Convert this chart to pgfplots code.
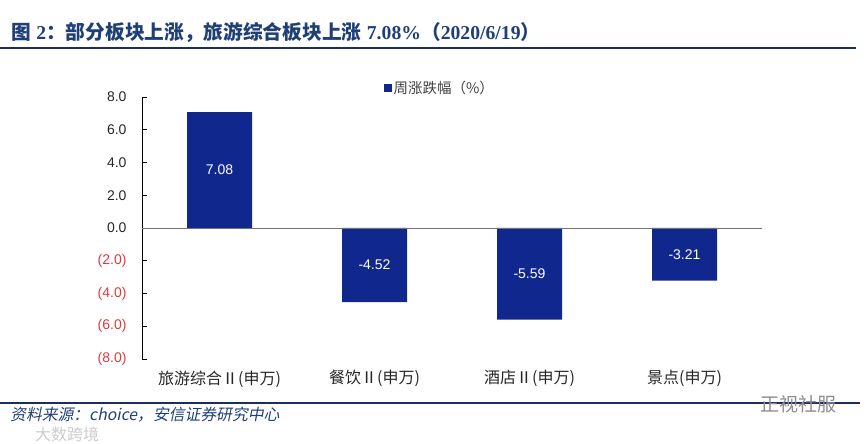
\documentclass[border=0pt]{standalone}
\usepackage{fontspec}
\setmainfont{Liberation Sans}
\newfontfamily\cjk{Noto Sans CJK SC}
\newfontfamily\cjkit[FakeSlant=0.2]{Noto Sans CJK SC}
\newfontfamily\tnr{Liberation Serif}
\usepackage{pgfplots}
\pgfplotsset{compat=1.18}
\definecolor{titleblue}{HTML}{1F3F77}
\definecolor{barblue}{HTML}{10288E}
\definecolor{navy}{HTML}{1B2F5E}
\definecolor{negred}{HTML}{E0393E}
\begin{document}
\begin{tikzpicture}[x=1pt,y=1pt]
\useasboundingbox (0,0) rectangle (867,444);
\node[anchor=west, text=titleblue, inner sep=0pt] at (11,412)
  {\fontsize{19.7}{22}\selectfont\bfseries{\cjk 图} {\tnr 2}{\cjk ：部分板块上涨，旅游综合板块上涨} {\tnr 7.08\%}{\cjk （}{\tnr 2020/6/19}{\cjk ）}};
\draw[navy, line width=1.3pt] (0,396) -- (856,396);
\begin{axis}[
  at={(142pt,85pt)}, anchor=south west,
  width=620pt, height=262pt, scale only axis,
  xmin=-0.5, xmax=3.5, ymin=-8, ymax=8,
  axis x line*=bottom, axis y line*=left,
  x axis line style={draw=none},
  y axis line style={black, line width=0.8pt},
  xtick={0,1,2,3},
  xticklabels={旅游综合Ⅱ(申万),餐饮Ⅱ(申万),酒店Ⅱ(申万),景点(申万)},
  xtick style={draw=none},
  xticklabel style={font=\cjk\fontsize{16}{18}\selectfont, text=black!85, yshift=-8pt},
  ytick={-8,-6,-4,-2,0,2,4,6,8},
  yticklabels={\textcolor{negred}{(8.0)},\textcolor{negred}{(6.0)},\textcolor{negred}{(4.0)},\textcolor{negred}{(2.0)},0.0,2.0,4.0,6.0,8.0},
  yticklabel style={font=\fontsize{14}{16}\selectfont, text=black!85, xshift=-12pt},
  tick align=inside, major tick length=5pt,
  ytick style={black, line width=0.8pt},
  legend style={at={(0.39,1.035)}, anchor=west, draw=none, fill=none, inner sep=0pt,
    font=\cjk\fontsize{14.5}{16}\selectfont, text=black!75},
  legend image code/.code={\fill[barblue] (0pt,-3.8pt) rectangle (7.5pt,3.8pt);},
  clip=false,
]
\addplot[ybar, fill=barblue, draw=none, bar width=65pt] coordinates {(0,7.08) (1,-4.52) (2,-5.59) (3,-3.21)};
\addlegendentry{周涨跌幅（\%）}
\draw[black!55, line width=0.9pt] (axis cs:-0.5,0) -- (axis cs:3.5,0);
\node[text=white, font=\fontsize{14}{16}\selectfont] at (axis cs:0,3.54) {7.08};
\node[text=white, font=\fontsize{14}{16}\selectfont] at (axis cs:1,-2.26) {-4.52};
\node[text=white, font=\fontsize{14}{16}\selectfont] at (axis cs:2,-2.80) {-5.59};
\node[text=white, font=\fontsize{14}{16}\selectfont] at (axis cs:3,-1.60) {-3.21};
\end{axis}
\draw[navy, line width=1.3pt] (0,41) -- (860,41);
\node[anchor=west, text=titleblue, inner sep=0pt] at (10,29)
  {\cjkit\fontsize{15.8}{17}\selectfont 资料来源：choice，安信证券研究中心};
\node[anchor=west, text=black!45, inner sep=0pt] at (760,40)
  {\cjk\fontsize{19}{21}\selectfont 正视社服};
\node[anchor=west, text=black!20, inner sep=0pt] at (35,10)
  {\cjk\fontsize{16}{18}\selectfont 大数跨境};
\end{tikzpicture}
\end{document}
